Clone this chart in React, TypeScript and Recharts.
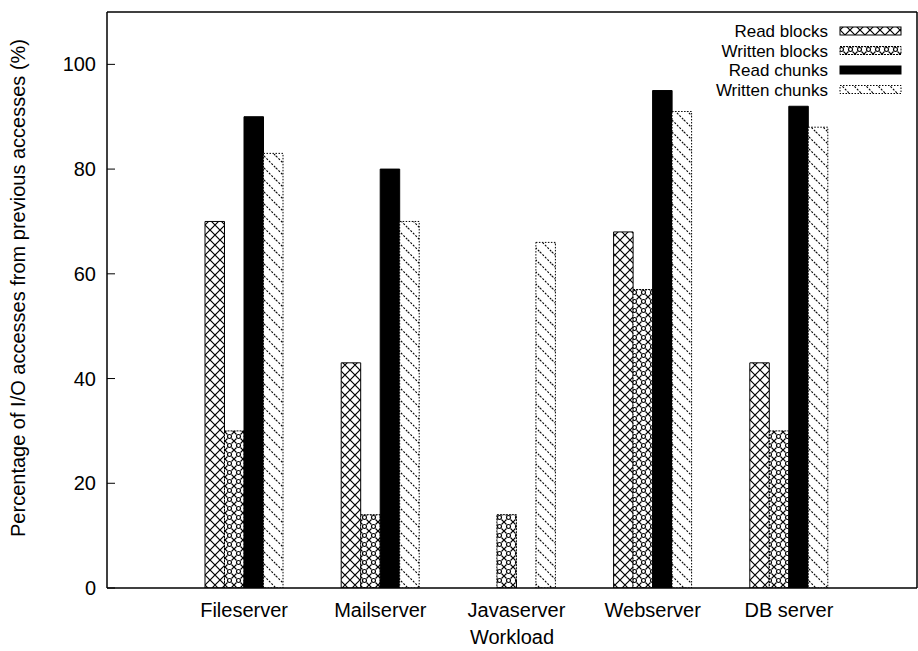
import React from 'react';
import { Bar, BarChart, Customized, XAxis, YAxis } from 'recharts';

const workloads = ['Fileserver', 'Mailserver', 'Javaserver', 'Webserver', 'DB server'];
const readBlocks = [70, 43, 0, 68, 43];
const writtenBlocks = [30, 14, 14, 57, 30];
const readChunks = [90, 80, 0, 95, 92];
const writtenChunks = [83, 70, 66, 91, 88];
const yTicks = [0, 20, 40, 60, 80, 100];
const seriesNames = ['Read blocks', 'Written blocks', 'Read chunks', 'Written chunks'];

const data = workloads.map((w, i) => ({
  workload: w,
  rb: readBlocks[i],
  wb: writtenBlocks[i],
  rc: readChunks[i],
  wc: writtenChunks[i],
}));

const FONT = '"Liberation Sans", Arial, Helvetica, sans-serif';

const fills = ['url(#rbPat)', 'url(#wbPat)', '#000', 'url(#wcPat)'];
const dashes = [undefined, '2 1', undefined, '1.5 1.5'];

const Patterns = () => (
  <defs>
    <pattern id="rbPat" patternUnits="userSpaceOnUse" width={10} height={10}>
      <rect width={10} height={10} fill="#fff" />
      <path d="M0,0 L10,10 M10,0 L0,10" stroke="#000" strokeWidth={1.2} />
    </pattern>
    <pattern id="wbPat" patternUnits="userSpaceOnUse" width={9} height={9}>
      <rect width={9} height={9} fill="#fff" />
      <circle cx={4.5} cy={4.5} r={2} fill="none" stroke="#000" strokeWidth={1.2} />
      <path
        d="M-2.5,-2.5 L2.5,2.5 M2.5,-2.5 L-2.5,2.5 M6.5,-2.5 L11.5,2.5 M11.5,-2.5 L6.5,2.5 M-2.5,6.5 L2.5,11.5 M2.5,6.5 L-2.5,11.5 M6.5,6.5 L11.5,11.5 M11.5,6.5 L6.5,11.5"
        stroke="#000"
        strokeWidth={1.2}
      />
    </pattern>
    <pattern id="wcPat" patternUnits="userSpaceOnUse" width={12} height={12}>
      <rect width={12} height={12} fill="#fff" />
      <path d="M0,0 L12,12 M-1,11 L1,13 M11,-1 L13,1" stroke="#000" strokeWidth={1.1} strokeDasharray="2 1.5" />
    </pattern>
  </defs>
);

const KeyBox = () => (
  <g fontFamily={FONT} fill="#000">
    {seriesNames.map((name, i) => {
      const cy = 31 + i * 19.5;
      return (
        <g key={name}>
          <text x={828} y={cy + 6} textAnchor="end" fontSize={17}>
            {name}
          </text>
          <rect
            x={840}
            y={cy - 4}
            width={61}
            height={8}
            fill={fills[i]}
            stroke="#000"
            strokeWidth={1}
            strokeDasharray={dashes[i]}
          />
        </g>
      );
    })}
    <text x={25} y={39} transform="rotate(-90 25 39)" textAnchor="end" fontSize={20}>
      Percentage of I/O accesses from previous accesses (%)
    </text>
  </g>
);

export default function App() {
  const axisLine = { stroke: '#000', strokeWidth: 1.5 };
  const tickStyle = { fill: '#000', fontSize: 20, fontFamily: FONT };
  return (
    <div style={{ position: 'absolute', left: 0, top: 0, background: '#fff' }}>
      <BarChart
        width={918}
        height={651}
        data={data}
        margin={{ top: 11, right: 0, bottom: 0, left: 0 }}
        barSize={19.5}
        barGap={0}
      >
        <Patterns />
        <XAxis
          dataKey="workload"
          padding={{ left: 69, right: 60 }}
          height={63}
          interval={0}
          axisLine={axisLine}
          tickLine={{ stroke: '#000' }}
          tickSize={-8}
          tickMargin={23}
          tick={tickStyle}
          label={{ value: 'Workload', position: 'insideBottom', offset: 7, fill: '#000', fontSize: 20, fontFamily: FONT }}
        />
        <XAxis
          xAxisId="top"
          orientation="top"
          dataKey="workload"
          padding={{ left: 69, right: 60 }}
          height={1}
          interval={0}
          axisLine={axisLine}
          tickLine={{ stroke: '#000' }}
          tickSize={-8}
          tick={false}
        />
        <YAxis
          domain={[0, 110]}
          ticks={yTicks}
          width={107}
          axisLine={axisLine}
          tickLine={{ stroke: '#000' }}
          tickSize={-8}
          tickMargin={19}
          tick={tickStyle}
          allowDataOverflow
        />
        <YAxis
          yAxisId="right"
          orientation="right"
          domain={[0, 110]}
          ticks={yTicks}
          width={1}
          axisLine={axisLine}
          tickLine={{ stroke: '#000' }}
          tickSize={-8}
          tick={false}
          allowDataOverflow
        />
        <Bar dataKey="rb" name={seriesNames[0]} fill={fills[0]} stroke="#000" strokeWidth={1} isAnimationActive={false} />
        <Bar dataKey="wb" name={seriesNames[1]} fill={fills[1]} stroke="#000" strokeWidth={1} strokeDasharray={dashes[1]} isAnimationActive={false} />
        <Bar dataKey="rc" name={seriesNames[2]} fill={fills[2]} stroke="#000" strokeWidth={1} isAnimationActive={false} />
        <Bar dataKey="wc" name={seriesNames[3]} fill={fills[3]} stroke="#000" strokeWidth={1} strokeDasharray={dashes[3]} isAnimationActive={false} />
        <Customized component={KeyBox} />
      </BarChart>
    </div>
  );
}
